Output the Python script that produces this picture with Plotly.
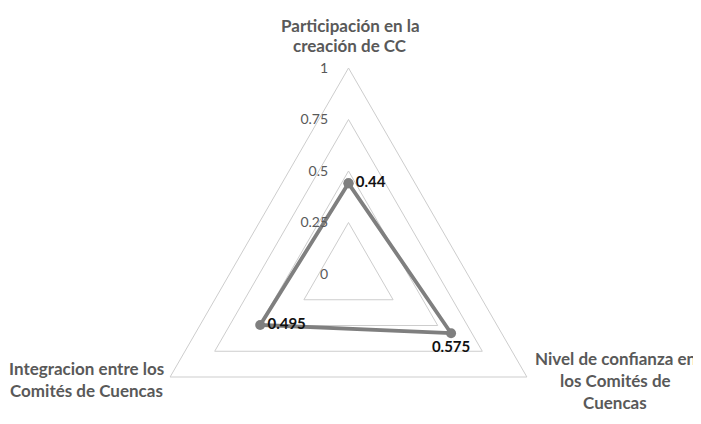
import plotly.graph_objects as go

# ---- data ----
categories = [
    "Participación en la<br>creación de CC",
    "Nivel de confianza en<br>los Comités de<br>Cuencas",
    "Integracion entre los<br>Comités de Cuencas",
]
values = [0.44, 0.575, 0.495]
radial_ticks = [0, 0.25, 0.5, 0.75, 1]
radial_ticktext = ["0", "0.25", "0.5", "0.75", "1"]

# ---- style / layout ----
FONT = "Lato, 'Open Sans', sans-serif"
OFF = 8            # page body margin offset
W, H = 693, 472    # figure size (bottom part lies below the window)
GRID = "#cdcdcd"
SERIES = "#7f7f7f"
LABEL = "#595959"


def fx(px):
    return (px - OFF) / W


def fy(py):
    return 1 - (py - OFF) / H


theta = categories + categories[:1]
r = values + values[:1]
texts = [f"<b>{v:g}</b>" for v in values] + [""]

fig = go.Figure()
fig.add_trace(go.Scatterpolar(
    r=r, theta=theta,
    mode="lines+markers+text",
    text=texts,
    textposition=["middle right", "bottom center", "middle right", "middle right"],
    textfont=dict(family=FONT, size=15, color="#111111"),
    line=dict(color=SERIES, width=3.8),
    marker=dict(color=SERIES, size=10),
    cliponaxis=False, hoverinfo="skip", showlegend=False,
))

# category labels, one annotation per line (centre x, baselines in page px)
label_pos = [(350, [32, 52]), (615, [365, 387, 409]), (86, [375, 397])]
LABEL_SIZE = 17
annotations = []
for cat, (cx, baselines) in zip(categories, label_pos):
    for line, base in zip(cat.split("<br>"), baselines):
        cy = base - 0.387 * LABEL_SIZE
        annotations.append(dict(
            text=f"<b>{line}</b>", x=fx(cx), y=fy(cy),
            xref="paper", yref="paper", xanchor="center", yanchor="middle",
            showarrow=False, font=dict(family=FONT, size=LABEL_SIZE, color=LABEL),
        ))

CX, CY, R = 348.5, 274, 206
fig.update_layout(
    width=W, height=H,
    margin=dict(l=0, r=0, t=0, b=0),
    paper_bgcolor="white", plot_bgcolor="white",
    polar=dict(
        domain=dict(x=[fx(CX - R), fx(CX + R)], y=[max(0, fy(CY + R)), fy(CY - R)]),
        bgcolor="white",
        gridshape="linear",
        radialaxis=dict(
            range=[0, 1], tickvals=radial_ticks, ticktext=radial_ticktext,
            angle=90, side="counterclockwise", tickangle=90,
            showline=False, gridcolor=GRID, gridwidth=1,
            ticks="outside", ticklen=15, tickcolor="rgba(0,0,0,0)",
            tickfont=dict(family=FONT, size=14, color=LABEL),
        ),
        angularaxis=dict(
            rotation=90, direction="clockwise",
            showgrid=False, showticklabels=False, ticks="",
            showline=True, linecolor=GRID, linewidth=1,
        ),
    ),
    annotations=annotations,
)

fig.write_html("out.html")
